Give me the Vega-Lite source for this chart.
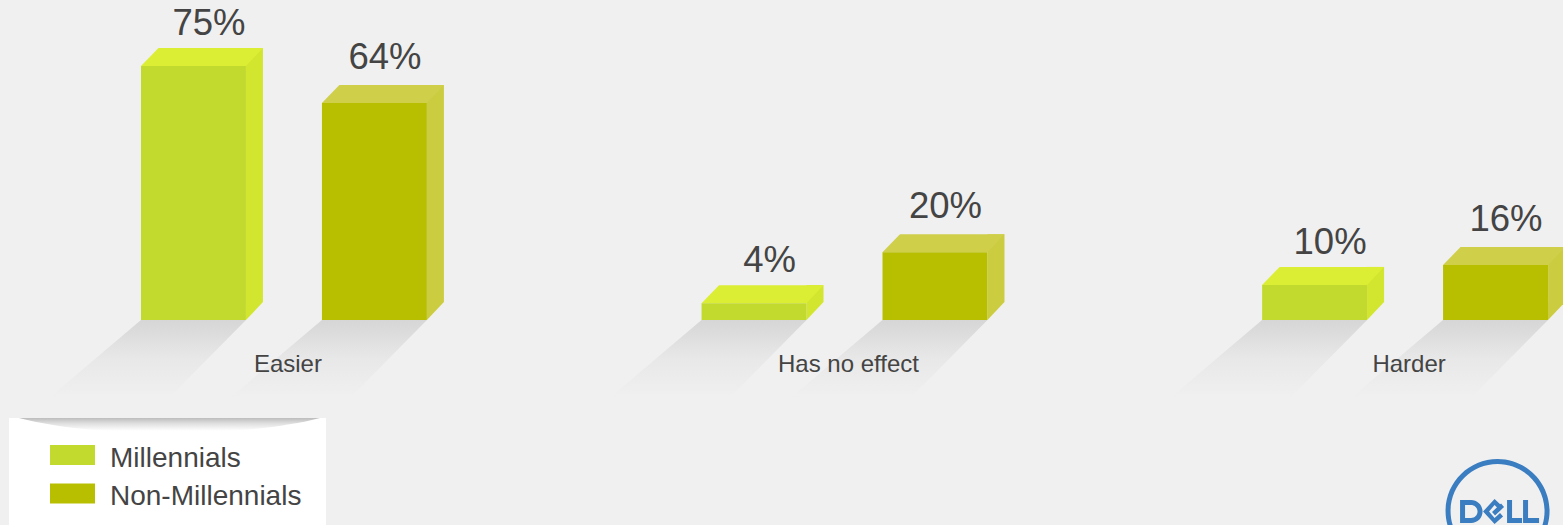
{
"$schema":"https://vega.github.io/schema/vega-lite/v6.json",
"width":1563,"height":320,
"autosize":{"type":"none"},
"padding":{"left":0,"top":0,"right":0,"bottom":205},
"background":"#f0f0f0",
"config":{"view":{"stroke":null},"font":"Liberation Sans"},
"data":{"values":[
{"group":"Easier","series":"Millennials","value":75.3,"label":"75%"},
{"group":"Easier","series":"Non-Millennials","value":64.3,"label":"64%"},
{"group":"Has no effect","series":"Millennials","value":5,"label":"4%"},
{"group":"Has no effect","series":"Non-Millennials","value":20.1,"label":"20%"},
{"group":"Harder","series":"Millennials","value":10.4,"label":"10%"},
{"group":"Harder","series":"Non-Millennials","value":16.3,"label":"16%"}
]},
"encoding":{
"x":{"field":"group","type":"nominal","sort":null,
"scale":{"type":"band","domain":["Easier","Has no effect","Harder"],"range":[141,1548],"paddingInner":0.49,"paddingOuter":0},
"axis":{"title":null,"domain":false,"ticks":false,"grid":false,"zindex":1,"labelAngle":0,"labelFontSize":24,"labelFont":"Liberation Sans","labelColor":"#444444","labelPadding":32,"labelOffset":4,"labelLimit":400}},
"y":{"field":"value","type":"quantitative","stack":null,"scale":{"domain":[0,94.87],"nice":false},"axis":null}
},
"resolve":{"scale":{"color":"independent"}},
"layer":[
{"mark":{"type":"point","filled":true,"opacity":1,"strokeWidth":0,"size":4,"shape":"M-52.5,0 L52.5,0 L-24.5,78 L-144.5,78 Z","fill":{"gradient":"linear","x1":0,"y1":0,"x2":0,"y2":1,"stops":[{"offset":0,"color":"#d6d6d6"},{"offset":0.5,"color":"#e8e8e8"},{"offset":1,"color":"#f0f0f0"}]}},
 "encoding":{"y":{"datum":0},"xOffset":{"field":"series","type":"nominal","scale":{"type":"band","domain":["Millennials","Non-Millennials"],"paddingInner":0.42,"paddingOuter":0}}}},
{"transform":[{"filter":"datum.group==='Easier' && datum.series==='Millennials'"}],
 "mark":{"type":"point","filled":true,"opacity":1,"strokeWidth":0,"size":4,"fill":"#ffffff","shape":"M-275,98 L42,98 L42,206 L-275,206 Z"},
 "encoding":{"y":{"datum":0}}},
{"transform":[{"filter":"datum.group==='Easier' && datum.series==='Millennials'"}],
 "mark":{"type":"point","filled":true,"opacity":1,"strokeWidth":0,"size":4,"shape":"M-265,98 L36,98 C-40,118 -190,118 -265,98 Z","fill":{"gradient":"linear","x1":0,"y1":0,"x2":0,"y2":1,"stops":[{"offset":0,"color":"#bcbcbc"},{"offset":0.35,"color":"#dedede"},{"offset":0.85,"color":"#ffffff"}]}},
 "encoding":{"y":{"datum":0}}},
{"transform":[{"filter":"datum.series==='Millennials'"}],
 "mark":{"type":"bar","width":17,"xOffset":-29.5,"yOffset":-18,"color":"#d2e52f"},
 "encoding":{"y2":{"datum":5.34}}},
{"transform":[{"filter":"datum.series==='Non-Millennials'"}],
 "mark":{"type":"bar","width":17,"xOffset":151.5,"yOffset":-18,"color":"#cccc40"},
 "encoding":{"y2":{"datum":5.34}}},
{"mark":{"type":"point","filled":true,"opacity":1,"strokeWidth":0,"size":4,"shape":"M52.5,0 L69.5,-18 L52.5,-18 Z"},
 "encoding":{"y":{"datum":0},"xOffset":{"field":"series","type":"nominal","scale":{"type":"band","domain":["Millennials","Non-Millennials"],"paddingInner":0.42,"paddingOuter":0}},
 "color":{"field":"series","type":"nominal","legend":null,"scale":{"domain":["Millennials","Non-Millennials"],"range":["#d2e52f","#cccc40"]}}}},
{"mark":{"type":"point","filled":true,"opacity":1,"strokeWidth":0,"size":4,"shape":"M-52.5,0 L52.5,0 L69.5,-18 L-35,-18 Z"},
 "encoding":{"xOffset":{"field":"series","type":"nominal","scale":{"type":"band","domain":["Millennials","Non-Millennials"],"paddingInner":0.42,"paddingOuter":0}},
 "color":{"field":"series","type":"nominal","legend":null,"scale":{"domain":["Millennials","Non-Millennials"],"range":["#dcee33","#cfcf4a"]}}}},
{"mark":{"type":"bar"},
 "encoding":{"xOffset":{"field":"series","type":"nominal","scale":{"type":"band","domain":["Millennials","Non-Millennials"],"paddingInner":0.42,"paddingOuter":0}},
 "color":{"field":"series","type":"nominal","scale":{"domain":["Millennials","Non-Millennials"],"range":["#c2d92e","#b7bf00"]},
 "legend":{"title":null,"orient":"none","legendX":58.5,"legendY":445,"padding":0,"symbolType":"M-2.25,-1.4 L2.25,-1.4 L2.25,0.6 L-2.25,0.6 Z","symbolSize":400,"symbolStrokeWidth":0,"symbolOpacity":1,"labelFontSize":28,"labelFont":"Liberation Sans","labelColor":"#444444","labelOffset":23.5,"labelLimit":400,"rowPadding":10.4}}}},
{"transform":[{"filter":"datum.series==='Millennials'"}],
 "mark":{"type":"text","fontSize":36.5,"font":"Liberation Sans","color":"#444444","baseline":"alphabetic","dx":15.5,"dy":-31},
 "encoding":{"text":{"field":"label"},"xOffset":{"field":"series","type":"nominal","scale":{"type":"band","domain":["Millennials","Non-Millennials"],"paddingInner":0.42,"paddingOuter":0}}}},
{"transform":[{"filter":"datum.series==='Non-Millennials'"}],
 "mark":{"type":"text","fontSize":36.5,"font":"Liberation Sans","color":"#444444","baseline":"alphabetic","dx":10.5,"dy":-34},
 "encoding":{"text":{"field":"label"},"xOffset":{"field":"series","type":"nominal","scale":{"type":"band","domain":["Millennials","Non-Millennials"],"paddingInner":0.42,"paddingOuter":0}}}},
{"transform":[{"filter":"datum.group==='Harder' && datum.series==='Millennials'"}],
 "mark":{"type":"point","filled":true,"opacity":1,"strokeWidth":0,"size":4,"fill":"#3a7dc0","shape":"M40.5,191 A52,52 0 1 1 144.5,191 A52,52 0 1 1 40.5,191 Z M45.5,191 A47,47 0 1 0 139.5,191 A47,47 0 1 0 45.5,191 Z M55,180 L66,180 A11.5,11.5 0 0 1 66,203 L55,203 Z M60,185 L60,198 L66,198 A6.5,6.5 0 0 0 66,185 Z M78,191.5 L89.5,179 L98,187 L95,190.5 L89.5,185 L84,191.5 L89.5,198 L95,193 L98,196.5 L89.5,204 Z M87,192 L96,183.5 L99,187 L90,195.5 Z M102,180 L107,180 L107,198 L117,198 L117,203 L102,203 Z M118,180 L123,180 L123,198 L134,198 L134,203 L118,203 Z"},
 "encoding":{"y":{"datum":0}}}
]
}
